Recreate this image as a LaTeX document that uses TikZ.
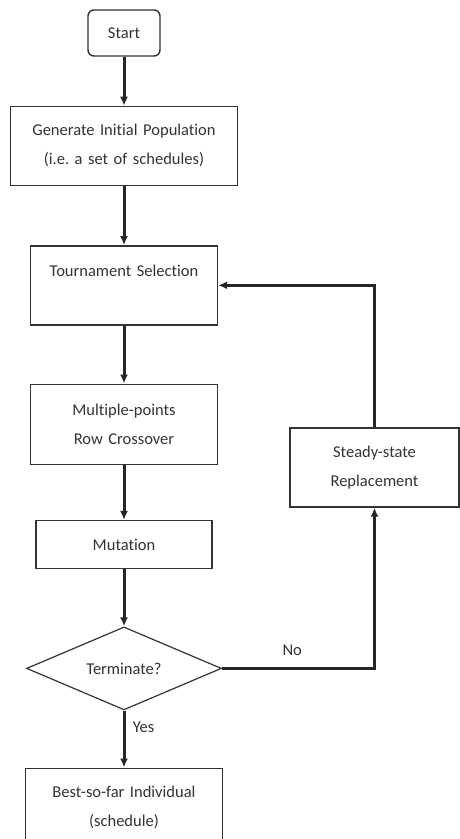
\documentclass[tikz,border=0pt]{standalone}
\usepackage{fontspec}
\setmainfont{Carlito}[Ligatures=NoCommon]
\usepackage{tikz}
\usetikzlibrary{arrows.meta,positioning,shapes.geometric}

\begin{document}
\begin{tikzpicture}[
    node distance=57pt,
    box/.style={
      draw=black!80, line width=1.4pt, align=center,
      minimum height=79pt, text width=170pt, inner sep=0pt,
      font=\fontsize{16.5}{29}\selectfont, text=black!80
    },
    terminal/.style={
      box, rounded corners=6pt, minimum width=72pt, minimum height=46pt,
      text width=, inner sep=0pt
    },
    decision/.style={
      draw=black!80, line width=1.2pt, diamond, aspect=2.35,
      minimum width=195pt, minimum height=83pt, inner sep=0pt,
      font=\fontsize{16.5}{29}\selectfont, text=black!80
    },
    arrow/.style={-{Latex[length=9pt,width=8pt]},line width=3pt,draw=black!85},
    lbl/.style={font=\fontsize{16.5}{20}\selectfont, text=black!80}
  ]
    \useasboundingbox (0,0) rectangle (460pt,-839pt);

    \node[terminal] (start) at (124pt,-33pt) {Start};
    \node[box,below=49pt of start,text width=227pt] (init) {Generate Initial Population\\(i.e.\ a set of schedules)};
    \node[box,below=59pt of init,text width=187pt] (select) {Tournament Selection\\\mbox{}};
    \node[box,below=58pt of select,text width=187pt,minimum height=80pt] (cross) {Multiple-points\\Row Crossover};
    \node[box,below=55pt of cross,text width=176pt,minimum height=48pt] (mutate) {Mutation};
    \node[decision,below=of mutate] (term) {Terminate?};
    \node[box,below=of term,text width=197pt,minimum height=78pt] (best) {Best-so-far Individual\\(schedule)};
    \node[box,text width=169pt] (replace) at (374.5pt,-467.5pt) {Steady-state\\Replacement};

    \draw[arrow] (start) -- (init);
    \draw[arrow] (init) -- (select);
    \draw[arrow] (select) -- (cross);
    \draw[arrow] (cross) -- (mutate);
    \draw[arrow] (mutate) -- (term);
    \draw[arrow] (term) -- node[lbl,pos=0.3,right=4pt] {Yes} (best);
    \draw[arrow] (term.east) -| node[lbl,pos=0.23,above=8pt] {No} (replace.south);
    \draw[arrow] (replace.north) |- (select.east);
  \end{tikzpicture}
\end{document}
